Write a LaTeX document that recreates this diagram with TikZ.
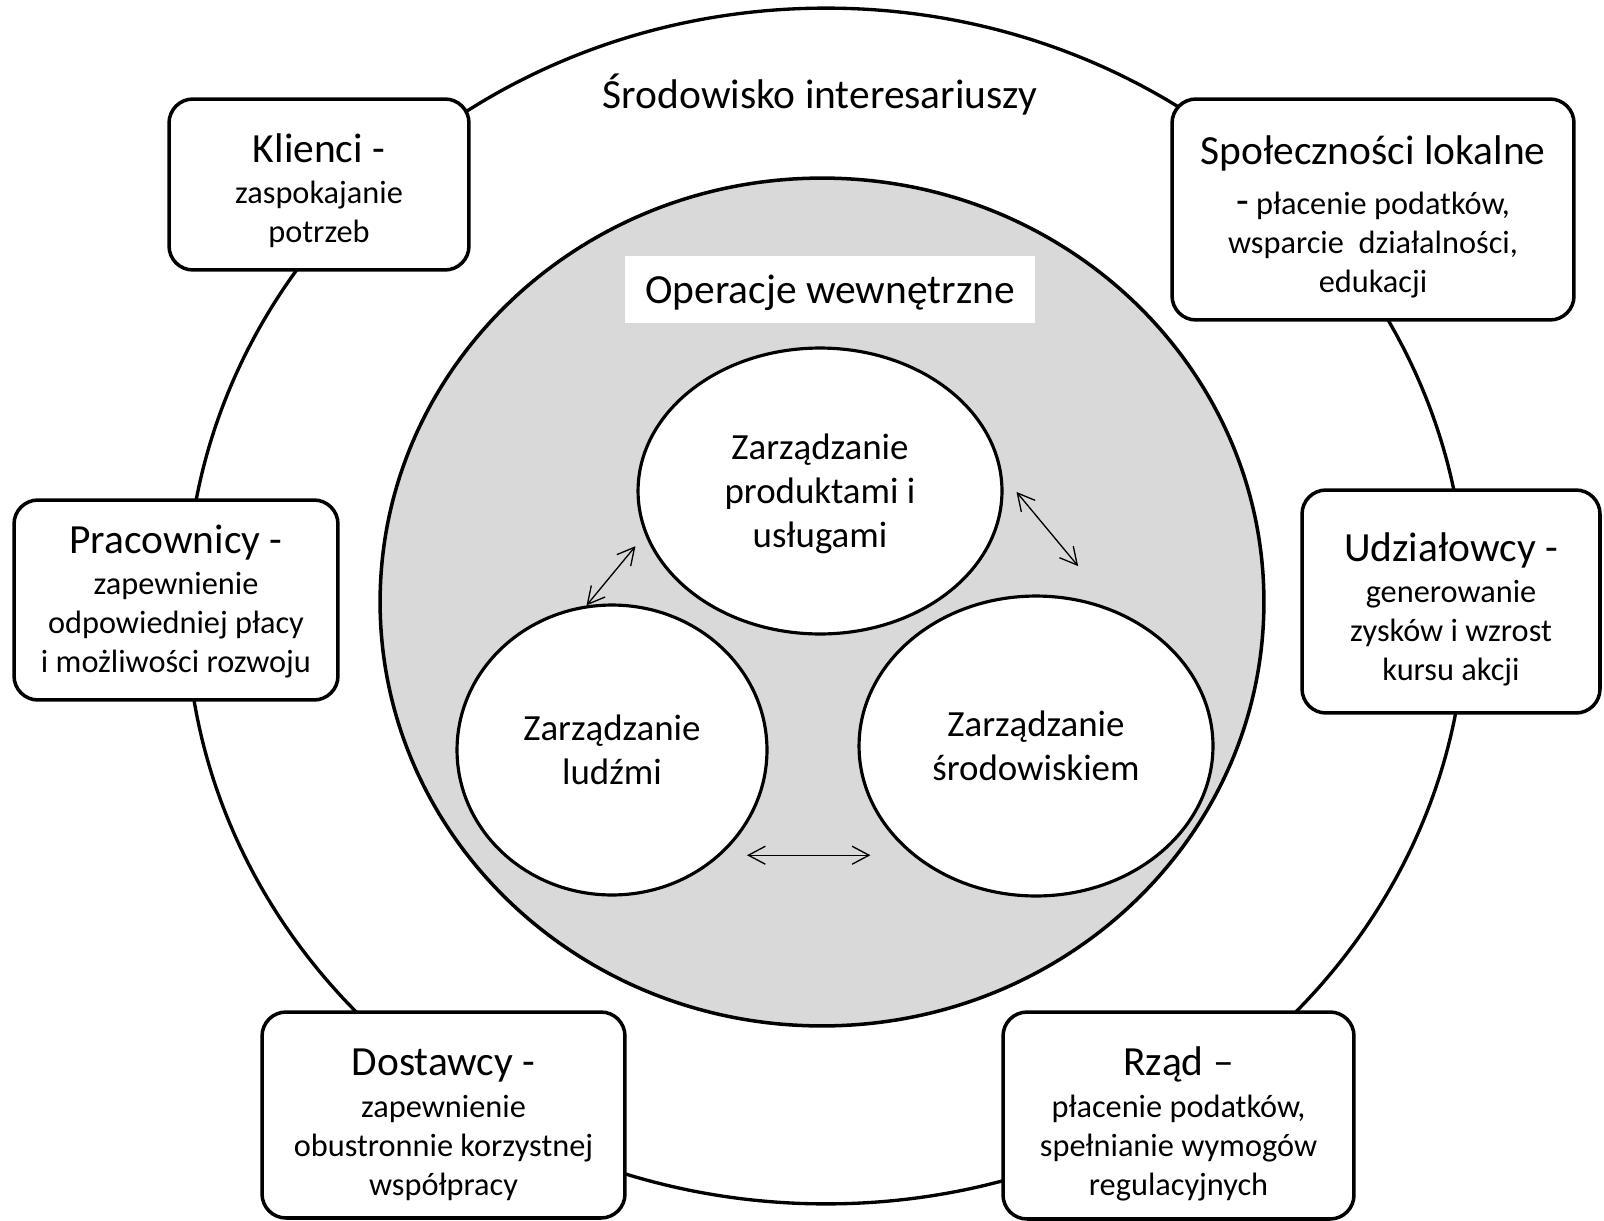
\documentclass[tikz,border=0pt]{standalone}
\usepackage{fontspec}
\setmainfont{Carlito}
\usetikzlibrary{shapes.geometric,arrows.meta}
\definecolor{opgray}{HTML}{D9D9D9}
\newcommand{\grouptitle}[2][0pt]{{\fontsize{23.6}{28}\selectfont\rule{0pt}{#1}#2}}
\tikzset{
    stakebox/.style={draw, line width=2pt, rounded corners=0.48cm, fill=white,
        align=center, inner sep=0pt, font=\fontsize{18.4}{22.2}\selectfont},
    mgmt/.style={ellipse, draw, line width=1.8pt, fill=white, inner sep=0pt,
        align=center, text depth=0pt, font=\fontsize{21}{25}\selectfont},
    dbl/.style={{Straight Barb[length=0.34cm,width=0.36cm]}-{Straight Barb[length=0.34cm,width=0.36cm]},
        line width=0.75pt}
}
\begin{document}
\begin{tikzpicture}[x=0.02cm,y=-0.02cm]
        \useasboundingbox (0,0) rectangle (1604,1220);
        \draw[line width=1.9pt] (826,606) ellipse [x radius=12.8cm, y radius=11.96cm];
        \draw[line width=2pt, fill=opgray] (822,602) ellipse [x radius=8.84cm, y radius=8.48cm];
        \node[font=\fontsize{23.6}{28}\selectfont] (env) at (820,95) {Środowisko interesariuszy};
        \node[fill=white, minimum width=8.2cm, minimum height=1.36cm, text depth=0pt,
            font=\fontsize{23.6}{28}\selectfont] (ops) at (830,289.5) {Operacje wewnętrzne};
        \node[mgmt, minimum width=7.28cm, minimum height=5.72cm] (prod) at (820,491)
            {Zarządzanie\\produktami i\\usługami};
        \node[mgmt, minimum width=6.2cm, minimum height=5.8cm] (ludzie) at (612,750)
            {Zarządzanie\\ludźmi};
        \node[mgmt, minimum width=7.08cm, minimum height=6cm] (srod) at (1036,746)
            {Zarządzanie\\środowiskiem};
        \draw[dbl, shorten >=0.3cm] (ludzie.100) -- (prod.194);
        \draw[dbl, shorten <=0.44cm, shorten >=1.14cm] (prod.5) -- (srod.60);
        \draw[dbl, shorten <=0.52cm, shorten >=-0.26cm] (ludzie.-44) -- (ludzie.-44 -| srod.west);
        \node[stakebox, minimum width=6cm, minimum height=3.42cm] (klienci) at (319,184.5)
            {\grouptitle[23.5pt]{Klienci -}\\[1.6pt]zaspokajanie\\potrzeb};
        \node[stakebox, minimum width=8.04cm, minimum height=4.42cm] (spolecznosci) at (1373,209.5)
            {\grouptitle[24.6pt]{Społeczności lokalne}\\[6.6pt]\grouptitle{-} płacenie podatków,\\wsparcie\ \ działalności,\\edukacji};
        \node[stakebox, minimum width=6.48cm, minimum height=4cm] (pracownicy) at (176,600)
            {\grouptitle[18pt]{Pracownicy -}\\[1.6pt]zapewnienie\\odpowiedniej płacy\\i możliwości rozwoju};
        \node[stakebox, minimum width=5.96cm, minimum height=4.46cm] (udzialowcy) at (1451,601.5)
            {\grouptitle[25.3pt]{Udziałowcy -}\\[1.6pt]generowanie\\zysków i wzrost\\kursu akcji};
        \node[stakebox, minimum width=7.26cm, minimum height=4.12cm] (dostawcy) at (443.5,1115)
            {\grouptitle[26pt]{Dostawcy -}\\[1.6pt]zapewnienie\\obustronnie korzystnej\\współpracy};
        \node[stakebox, minimum width=7.02cm, minimum height=4.14cm] (rzad) at (1178.5,1115.5)
            {\grouptitle[26.3pt]{Rząd –}\\[1.6pt]płacenie podatków,\\spełnianie wymogów\\regulacyjnych};
\end{tikzpicture}
\end{document}
